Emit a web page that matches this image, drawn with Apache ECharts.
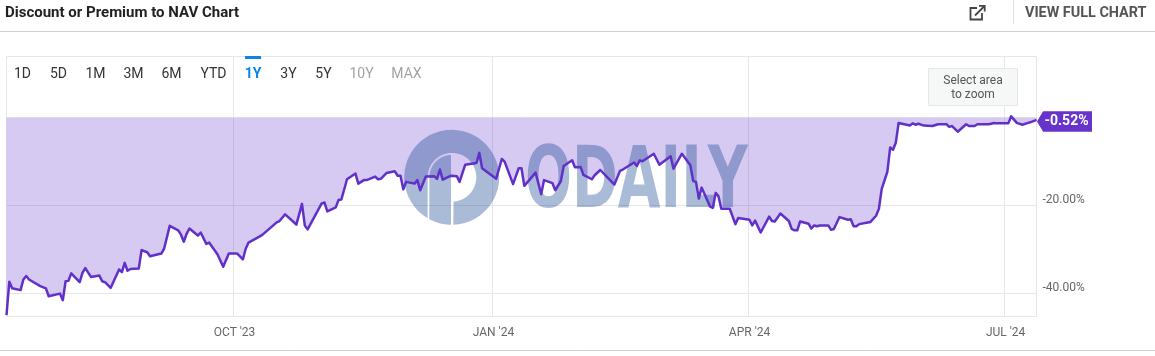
<!DOCTYPE html>
<html><head><meta charset="utf-8">
<style>html,body{margin:0;padding:0;background:#fff}#c{width:1155px;height:356px}</style>
<script src="https://cdn.jsdelivr.net/npm/echarts@6/dist/echarts.min.js"></script>
</head><body><div id="c"></div>
<script>
const startDate = Date.UTC(2023, 6, 12, 12);
const endDate = Date.UTC(2024, 6, 12, 12);
const dayOffsets = [0,1,2,5,6,7,8,12,14,15,19,20,21,22,23,26,27,28,30,33,34,35,37,40,41,42,43,44,47,48,50,51,55,56,58,61,62,63,64,65,68,69,71,72,75,77,79,82,84,85,86,90,91,96,97,99,103,105,106,107,112,113,114,117,118,119,121,124,125,127,128,131,132,133,135,138,139,140,141,142,145,146,147,149,152,153,154,155,158,160,161,163,167,168,169,174,176,177,180,182,183,184,188,190,191,194,195,197,198,201,202,204,205,208,209,211,216,218,219,223,224,225,226,230,232,236,237,240,243,244,245,246,247,250,251,252,253,254,257,259,260,264,265,266,268,271,272,273,275,278,279,280,281,282,285,286,287,288,289,292,293,294,296,299,300,301,302,303,307,309,310,311,313,314,315,316,317,321,322,323,324,326,329,331,334,335,336,338,341,342,344,345,349,351,352,356,357,359,361,363,364,366];
const premiumPct = [-44.9,-37.3,-38.8,-39.2,-36.8,-36.0,-36.8,-38.3,-38.8,-40.6,-40.0,-41.5,-37.2,-37.1,-35.4,-37.4,-35.3,-34.2,-36.2,-35.9,-37.2,-37.4,-38.7,-34.5,-35.1,-33.0,-34.8,-34.4,-34.3,-30.1,-30.6,-31.5,-30.9,-29.8,-24.6,-25.6,-26.6,-28.2,-26.4,-25.2,-26.8,-26.1,-28.7,-28.4,-31.1,-33.9,-30.9,-30.9,-32.2,-29.8,-28.4,-27.0,-26.6,-23.8,-23.5,-22.0,-24.3,-19.6,-24.5,-25.4,-19.5,-19.3,-21.3,-20.4,-18.7,-18.6,-14.0,-12.7,-15.0,-14.2,-14.2,-13.4,-14.0,-13.9,-12.6,-12.2,-13.2,-13.2,-16.3,-14.6,-15.0,-14.2,-16.5,-13.4,-13.3,-13.9,-11.8,-14.1,-13.2,-13.3,-14.6,-10.7,-10.3,-8.0,-11.5,-13.9,-9.4,-10.0,-15.1,-11.5,-11.5,-15.5,-12.5,-17.4,-14.2,-14.9,-16.5,-14.4,-11.0,-9.7,-11.3,-11.2,-13.0,-14.0,-13.1,-11.9,-15.2,-12.1,-11.8,-10.2,-11.0,-9.7,-9.9,-8.2,-10.7,-8.8,-11.6,-8.2,-10.8,-14.4,-14.6,-18.4,-15.9,-20.2,-20.5,-17.1,-17.9,-20.7,-20.7,-24.2,-22.8,-23.2,-24.5,-23.4,-26.1,-22.5,-23.5,-23.6,-21.8,-23.5,-25.3,-25.6,-25.6,-23.6,-24.1,-25.2,-24.5,-24.7,-24.5,-24.5,-25.5,-25.3,-22.6,-23.2,-23.1,-24.7,-24.7,-24.2,-23.7,-22.3,-20.7,-16.2,-12.3,-6.8,-7.3,-5.7,-1.2,-1.8,-1.3,-1.6,-1.4,-1.8,-1.9,-1.5,-1.5,-2.1,-1.9,-3.2,-1.5,-1.9,-1.9,-1.5,-1.5,-1.2,-1.3,-1.3,0.3,-1.2,-1.6,-1.2,-1.0,-0.52];
const xTickDates = [Date.UTC(2023,9,1), Date.UTC(2024,0,1), Date.UTC(2024,3,1), Date.UTC(2024,6,1)];
const xTickLabels = ["OCT '23","JAN '24","APR '24","JUL '24"];
const yTicks = [-40,-20,0];
const rangeLabels = ['1D','5D','1M','3M','6M','YTD','1Y','3Y','5Y','10Y','MAX'];
const rangeCenters = [22.5,58.5,95.5,133.5,171.5,213.5,253,288.5,323.5,361.5,406.5];
const rangeActive = '1Y';
const rangeDisabled = ['10Y','MAX'];
const seriesData = dayOffsets.map((d,i)=>[startDate+d*86400000, premiumPct[i]]);
const last = seriesData[seriesData.length-1];
const font = 'Roboto, sans-serif';
const grid = '#e6e6e6';
const mark = 'rgba(16,66,141,0.36)';

const chart = echarts.init(document.getElementById('c'), null, {renderer:'canvas'});
const T = (x,y,text,o={}) => ({type:'text', x, y, z:10, silent:true, style:Object.assign({
  text, fill:'#333', fontFamily:font, fontSize:14, align:'left', verticalAlign:'middle'}, o)});
const L = (x1,y1,x2,y2,c,w=1) => ({type:'line', z:10, silent:true, shape:{x1,y1,x2,y2}, style:{stroke:c, lineWidth:w}});
const arc = (cx,cy,r,a0,a1) => { const out=[], n=48; for(let i=0;i<=n;i++){const a=(a0+(a1-a0)*i/n)*Math.PI/180; out.push([cx+r*Math.cos(a),cy+r*Math.sin(a)]);} return out; };

const logoBody = [...arc(451.7,177.3,47.5,88,-239.5), [427.7,177.3], ...arc(452,177.3,24.3,-180,90), [453.5,201.6]];
const logoColumn = [...arc(451.8,177.3,22.4,-180,-92), [451,224.7], ...arc(451.7,177.3,47.5,91,118.2)];

const graphics = [
  T(5,13,'Discount or Premium to NAV Chart',{fontWeight:700,fontSize:15,fill:'#222'}),
  T(1025,13,'VIEW FULL CHART',{fontWeight:700,fontSize:14.4,fill:'#555'}),
  L(0,31.5,1155,31.5,'#cfcfcf'), L(0,350.5,1155,350.5,'#cfcfcf'),
  L(1013.5,0,1013.5,24,'#e2e2e2'),
  {type:'polyline', z:10, silent:true, shape:{points:[[977,8],[970.5,8],[970.5,19.5],[982,19.5],[982,13]]}, style:{stroke:'#444',lineWidth:1.8,fill:null}},
  {type:'polyline', z:10, silent:true, shape:{points:[[979,5.8],[984.7,5.8],[984.7,11.5]]}, style:{stroke:'#444',lineWidth:1.8,fill:null}},
  L(984.5,6,975,15.5,'#444',1.8),
  {type:'rect', z:10, silent:true, shape:{x:245,y:56,width:16,height:3}, style:{fill:'#0a84e6'}},
  {type:'rect', z:10, silent:true, shape:{x:928.5,y:68.5,width:89,height:37}, style:{fill:'#f6f7f7',stroke:'#e6e6e6'}},
  T(973,81,'Select area',{align:'center',fontSize:12,fill:'#555'}),
  T(973,95,'to zoom',{align:'center',fontSize:12,fill:'#555'}),
  // watermark
  {type:'polygon', z:3, silent:true, shape:{points:logoBody}, style:{fill:mark}},
  {type:'polygon', z:3, silent:true, shape:{points:logoColumn}, style:{fill:mark}},
  {type:'text', z:3, silent:true, x:525, y:142, scaleX:0.65, style:{text:'ODAILY', fill:mark, fontFamily:'"DejaVu Sans", sans-serif', fontWeight:700, fontSize:85, align:'left', verticalAlign:'top'}}
];
rangeLabels.forEach((t,i)=>{
  const active = t===rangeActive, off = rangeDisabled.includes(t);
  graphics.push(T(rangeCenters[i],74.5,t,{align:'center',fontWeight:active?700:400,fill:active?'#0a84e6':off?'#a3a3a3':'#333'}));
});

chart.setOption({
  animation:false,
  backgroundColor:'#fff',
  grid:{left:6.5,right:118.5,top:56.5,height:260,show:true,borderColor:grid,borderWidth:1,backgroundColor:'transparent'},
  xAxis:{type:'value',min:startDate,max:endDate,
    axisLine:{show:false},
    axisTick:{show:false,customValues:xTickDates},
    splitLine:{show:true,lineStyle:{color:grid,width:1}},
    axisLabel:{customValues:xTickDates,hideOverlap:false,margin:10,color:'#666',fontFamily:font,fontSize:12,
      padding:[0,0,0,3],showMinLabel:true,showMaxLabel:true,
      formatter:v=>xTickLabels[xTickDates.indexOf(v)]||''}},
  yAxis:{type:'value',position:'right',min:-45.2,max:13.9,
    axisLine:{show:false},
    axisTick:{show:false,customValues:yTicks},
    splitLine:{show:true,lineStyle:{color:grid,width:1}},
    axisLabel:{customValues:yTicks,margin:6,color:'#666',fontFamily:font,fontSize:12,verticalAlign:'bottom',
      formatter:v=>v===0?'':v.toFixed(2)+'%'}},
  series:[
    {type:'line',name:'fill',data:seriesData,z:2,symbol:'none',silent:true,lineStyle:{width:0},
     areaStyle:{color:'rgba(102,51,204,0.26)',opacity:1}},
    {type:'line',name:'Discount or Premium to NAV',data:seriesData,z:5,symbol:'none',silent:true,
     lineStyle:{color:'#6130c8',width:2.5,join:'round'},
     markPoint:{silent:true,z:9,symbol:'path://M0 10 L6 0 L54 0 L54 20 L6 20 Z',symbolSize:[55,20.5],symbolOffset:[28,1.5],symbolKeepAspect:false,
       itemStyle:{color:'#6633cc'},
       data:[{coord:last,value:last[1]}],
       label:{show:true,position:'inside',offset:[2,0],color:'#fff',fontFamily:font,fontWeight:700,fontSize:14,
         formatter:p=>p.value.toFixed(2)+'%'}}}
  ],
  graphic:{elements:graphics}
});
</script></body></html>
